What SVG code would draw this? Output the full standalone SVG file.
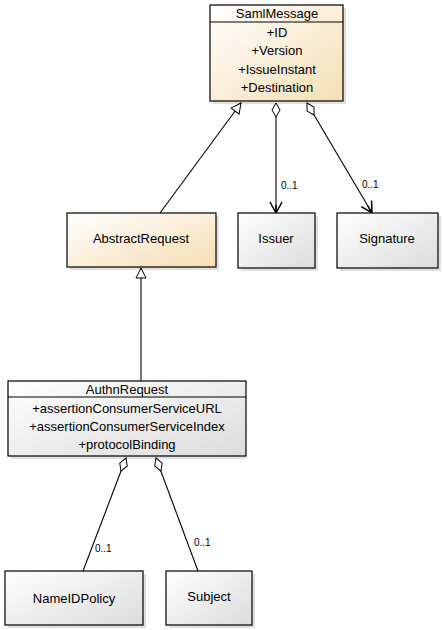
<svg xmlns="http://www.w3.org/2000/svg" width="443" height="630" viewBox="0 0 443 630">
<style>
text{font-family:"Liberation Sans","DejaVu Sans",sans-serif;font-size:13px;fill:#000;text-anchor:middle}
.box{stroke:#000;stroke-width:1.2}
.cream{fill:url(#gc)}
.grey{fill:url(#gg)}
.ln{stroke:#000;stroke-width:1.1;fill:none}
.sh{fill:#000;opacity:0.12}
.lbl{font-size:10px;text-anchor:start}
</style>
<defs>
<linearGradient id="gc" x1="0" y1="0" x2="1" y2="1"><stop offset="0" stop-color="#ffffff"/><stop offset="1" stop-color="#f5deb3"/></linearGradient>
<linearGradient id="gg" x1="0" y1="0" x2="1" y2="1"><stop offset="0" stop-color="#ffffff"/><stop offset="1" stop-color="#dcdcdc"/></linearGradient>
<marker id="tri" markerWidth="12" markerHeight="12" refX="11" refY="6" orient="auto" markerUnits="userSpaceOnUse"><path d="M1,1 L11,6 L1,11 Z" fill="#fff" stroke="#000" stroke-width="1"/></marker>
<marker id="dia" markerWidth="18" markerHeight="10" refX="1" refY="5" orient="auto" markerUnits="userSpaceOnUse"><path d="M1,5 L8,1 L15,5 L8,9 Z" fill="#fff" stroke="#000" stroke-width="1"/></marker>
<marker id="arr" markerWidth="14" markerHeight="14" refX="12" refY="7" orient="auto" markerUnits="userSpaceOnUse"><path d="M1,1 L12,7 L1,13 M12,7 L4,7" fill="none" stroke="#000" stroke-width="1.5"/></marker>
</defs>
<g id="connectors">
<path class="ln" d="M160,213 L241,103" marker-end="url(#tri)"/>
<path class="ln" d="M276,103 L276,213" marker-start="url(#dia)" marker-end="url(#arr)"/>
<text class="lbl" x="281" y="189">0..1</text>
<path class="ln" d="M307,103 L372,213" marker-start="url(#dia)" marker-end="url(#arr)"/>
<text class="lbl" x="362" y="188">0..1</text>
<path class="ln" d="M141,381 L141,268" marker-end="url(#tri)"/>
<path class="ln" d="M126,458 L83,571" marker-start="url(#dia)"/>
<text class="lbl" x="95" y="552">0..1</text>
<path class="ln" d="M156,458 L198,571" marker-start="url(#dia)"/>
<text class="lbl" x="194" y="546">0..1</text>
</g>
<g id="SamlMessage">
<rect class="sh" x="213" y="8" width="133" height="96"/>
<rect class="box cream" x="210" y="5" width="133" height="96"/>
<line class="box" x1="210" y1="22" x2="343" y2="22"/>
<text x="277" y="18">SamlMessage</text>
<text x="277" y="37">+ID</text>
<text x="277" y="55">+Version</text>
<text x="277" y="74">+IssueInstant</text>
<text x="277" y="92">+Destination</text>
</g>
<g id="AbstractRequest">
<rect class="sh" x="70" y="216" width="149" height="54"/>
<rect class="box cream" x="67" y="213" width="149" height="54"/>
<text x="141" y="243">AbstractRequest</text>
</g>
<g id="Issuer">
<rect class="sh" x="241" y="216" width="77" height="55"/>
<rect class="box grey" x="238" y="213" width="77" height="55"/>
<text x="276" y="243">Issuer</text>
</g>
<g id="Signature">
<rect class="sh" x="340" y="216" width="101" height="55"/>
<rect class="box grey" x="337" y="213" width="101" height="55"/>
<text x="387" y="243">Signature</text>
</g>
<g id="AuthnRequest">
<rect class="sh" x="11" y="384" width="235" height="75"/>
<rect class="box grey" x="8" y="381" width="238" height="75"/>
<line class="box" x1="8" y1="397" x2="246" y2="397"/>
<text x="127" y="394">AuthnRequest</text>
<text x="127" y="413">+assertionConsumerServiceURL</text>
<text x="127" y="431">+assertionConsumerServiceIndex</text>
<text x="127" y="449">+protocolBinding</text>
</g>
<g id="NameIDPolicy">
<rect class="sh" x="8" y="574" width="138" height="54"/>
<rect class="box grey" x="5" y="571" width="138" height="54"/>
<text x="74" y="603">NameIDPolicy</text>
</g>
<g id="Subject">
<rect class="sh" x="169" y="574" width="86" height="54"/>
<rect class="box grey" x="166" y="571" width="86" height="54"/>
<text x="209" y="601">Subject</text>
</g>
</svg>
